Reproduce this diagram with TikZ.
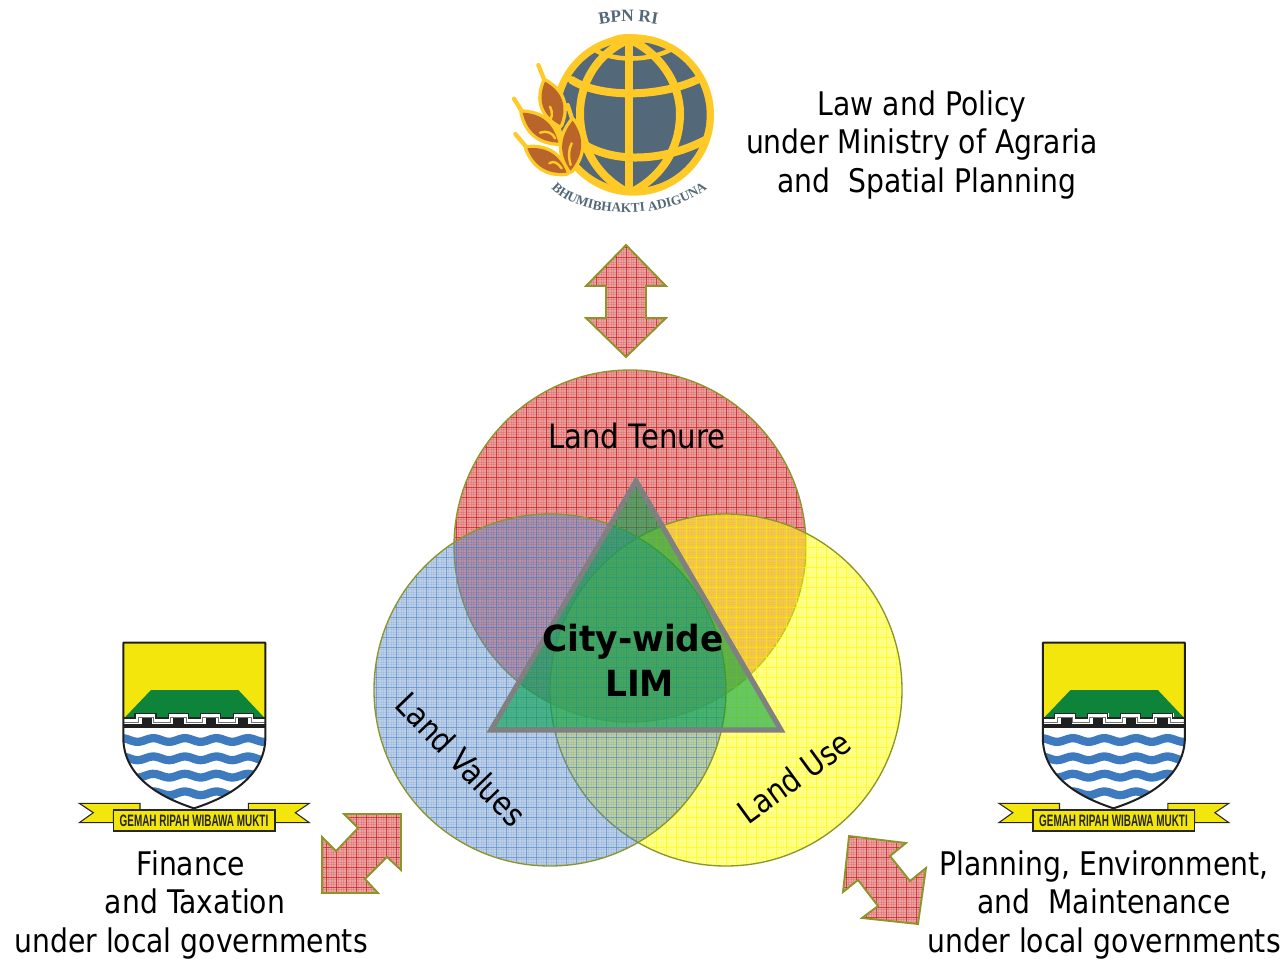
\documentclass[tikz,border=0pt]{standalone}
\usepackage{fontspec}
\usetikzlibrary{decorations.text}
\setmainfont[FakeStretch=0.868,BoldFont={DejaVu Sans Bold},BoldFeatures={FakeStretch=0.955}]{DejaVu Sans}
\newfontfamily\ribbonfont[FakeStretch=0.6]{Liberation Sans}
\newfontfamily\logofont{Liberation Serif}
\definecolor{olive1}{RGB}{140,150,40}
\definecolor{logogray}{RGB}{83,104,120}
\definecolor{logoyellow}{RGB}{255,202,40}
\definecolor{logobrown}{RGB}{185,100,40}
\definecolor{shieldyellow}{RGB}{243,230,12}
\definecolor{shieldgreen}{RGB}{14,132,58}
\definecolor{shieldblue}{RGB}{62,122,190}
\definecolor{redfill}{RGB}{201,5,5}
\definecolor{redline}{RGB}{200,25,25}
\definecolor{bluefill}{RGB}{85,135,195}
\definecolor{blueline}{RGB}{90,140,205}
\definecolor{yellowfill}{RGB}{255,255,0}
\definecolor{trifill}{RGB}{0,160,75}
\tikzset{
  x=0.75pt,y=-0.75pt,
  label text/.style={font=\fontsize{24.4}{28.9}\selectfont,align=center,inner sep=0pt,text=black},
  big text/.style={font=\fontsize{27}{33.5}\selectfont\bfseries,align=center,inner sep=0pt},
  olive edge/.style={draw=olive1,line width=1pt},
  arrow edge/.style={draw=olive1,line width=1.4pt,line join=miter},
  leaf halo/.style={fill=logoyellow,draw=logoyellow,line width=5pt,line join=round},
}
% #1 path, #2 fill colour, #3 line colour, #4 opacity, #5 x0, #6 x1, #7 y0, #8 y1
\newcommand\griddedshape[8]{%
  \begin{scope}
    \clip #1;
    \fill[#2,opacity=#4] (#5,#7) rectangle (#6,#8);
    \pgfmathsetmacro\xfine{#5+2.5}
    \pgfmathsetmacro\yfine{#7+2.5}
    \foreach \gx in {#5,\xfine,...,#6} \draw[#2,line width=0.55pt,opacity=.14] (\gx,#7) -- (\gx,#8);
    \foreach \gy in {#7,\yfine,...,#8} \draw[#2,line width=0.55pt,opacity=.14] (#5,\gy) -- (#6,\gy);
    \pgfmathtruncatemacro\xsec{#5+10}
    \pgfmathtruncatemacro\ysec{#7+10}
    \foreach \gx in {#5,\xsec,...,#6} \draw[#3,line width=0.7pt,opacity=.65] (\gx,#7) -- (\gx,#8);
    \foreach \gy in {#7,\ysec,...,#8} \draw[#3,line width=0.7pt,opacity=.65] (#5,\gy) -- (#6,\gy);
  \end{scope}}
\newcommand\cityemblem[2]{%
  \begin{scope}[shift={(#1,630)},scale=1/3]
    % ribbon tails
    \fill[shieldyellow,draw=black!85,line width=.8pt] (28,520)--(210,520)--(210,545)--(130,545)--(130,578)--(28,578)--(70,548)--cycle;
    \fill[shieldyellow,draw=black!85,line width=.8pt] (718,520)--(535,520)--(535,545)--(615,545)--(615,578)--(718,578)--(676,548)--cycle;
    % shield
    \fill[white] (160,38)--(586,38)--(586,330) .. controls (580,440) and (480,500) .. (372,535) .. controls (265,500) and (165,440) .. (160,330)--cycle;
    \begin{scope}
      \clip (160,38)--(586,38)--(586,330) .. controls (580,440) and (480,500) .. (372,535) .. controls (265,500) and (165,440) .. (160,330)--cycle;
      \fill[shieldyellow] (160,38) rectangle (586,265);
      \fill[shieldgreen] (163,264)--(243,180)--(505,180)--(584,264)--cycle;
      \foreach \wy in {330,385,437,490}
        \draw[shieldblue,line width=6.2pt] plot[domain=150:600,samples=70] (\x,{\wy+5.5*sin(3.8*\x+40)});
      \fill[white] (160,264) rectangle (586,285);
      \foreach \bx in {195,295,392,490} \fill[white] (\bx,250) rectangle (\bx+62,264);
      \fill[black!88] (160,283) rectangle (586,293);
      \foreach \bx in {215,310,408,503} \fill[black!88] (\bx,264) rectangle (\bx+31,285);
      \draw[black!85,line width=.9pt] (160,264)--(195,264)--(195,250)--(258,250)--(258,264)--(295,264)--(295,250)--(355,250)--(355,264)--(392,264)--(392,250)--(452,250)--(452,264)--(490,264)--(490,250)--(550,250)--(550,264)--(586,264);
      \draw[black!55,line width=.6pt] (160,276)--(205,276)--(205,262)--(250,262)--(250,276)--(300,276)--(300,262)--(348,262)--(348,276)--(398,276)--(398,262)--(445,262)--(445,276)--(495,276)--(495,262)--(543,262)--(543,276)--(586,276);
    \end{scope}
    \draw[black!88,line width=1.5pt,line join=round] (160,38)--(586,38)--(586,330) .. controls (580,440) and (480,500) .. (372,535) .. controls (265,500) and (165,440) .. (160,330)--cycle;
    % ribbon front
    \fill[shieldyellow,draw=black!85,line width=1pt] (130,540) rectangle (615,603);
    \node[inner sep=0pt,font=\ribbonfont\fontsize{12.4}{13}\selectfont\bfseries,text=black!85] (motto#2) at (372,571) {GEMAH RIPAH WIBAWA MUKTI};
  \end{scope}}
\begin{document}
\begin{tikzpicture}
\useasboundingbox (0,0) rectangle (1284,959);
\fill[white] (0,0) rectangle (1284,959);

% ---------- national logo
\begin{scope}[shift={(500,0)},scale=1/3]
  \fill[logoyellow] (400,345) circle[radius=242];
  \fill[logogray] (400,345) circle[radius=220];
  \begin{scope}[logoyellow,line width=6pt,line cap=round]
    \clip (400,345) circle[radius=232];
    \draw (388,115) -- (388,585);
    \draw (388,118) .. controls (290,160) and (240,250) .. (240,340) .. controls (240,440) and (290,530) .. (388,580);
    \draw (388,118) .. controls (480,160) and (540,250) .. (540,340) .. controls (540,440) and (490,530) .. (388,580);
    \draw (215,240) .. controls (300,295) and (490,295) .. (610,230);
    \draw (240,425) .. controls (330,490) and (490,490) .. (625,415);
    \draw[line width=3.4pt] (285,150) .. controls (340,185) and (450,185) .. (520,145);
  \end{scope}
  \fill[logoyellow] (385,120) ellipse[x radius=55,y radius=18];
  % wheat
  \begin{scope}[line cap=round]
    \draw[logoyellow,line width=3.2pt] (115,195)--(135,245);
    \draw[logoyellow,line width=3.2pt] (42,296)--(68,338);
    \draw[logoyellow,line width=3.2pt] (46,402)--(82,445);
    \draw[logoyellow,line width=3.2pt] (203,315)--(218,362);
    \path[leaf halo] (135,245) .. controls (112,301) and (127,345) .. (180,375) .. controls (203,319) and (188,275) .. (135,245);
    \path[leaf halo] (68,338) .. controls (81,395) and (116,425) .. (175,428) .. controls (161,371) and (126,341) .. (68,338);
    \path[leaf halo] (82,445) .. controls (103,499) and (143,524) .. (200,518) .. controls (179,464) and (139,439) .. (82,445);
    \path[leaf halo] (218,362) .. controls (178,412) and (176,462) .. (212,512) .. controls (252,462) and (254,412) .. (218,362);
    \fill[logobrown] (135,245) .. controls (112,301) and (127,345) .. (180,375) .. controls (203,319) and (188,275) .. (135,245);
    \fill[logobrown] (68,338) .. controls (81,395) and (116,425) .. (175,428) .. controls (161,371) and (126,341) .. (68,338);
    \fill[logobrown] (82,445) .. controls (103,499) and (143,524) .. (200,518) .. controls (179,464) and (139,439) .. (82,445);
    \fill[logobrown] (218,362) .. controls (178,412) and (176,462) .. (212,512) .. controls (252,462) and (254,412) .. (218,362);
    \draw[logoyellow,line width=1.8pt] (150,320) .. controls (160,340) and (155,355) .. (148,365);
    \draw[logoyellow,line width=1.8pt] (120,398) .. controls (140,390) and (160,400) .. (165,415);
    \draw[logoyellow,line width=1.8pt] (148,490) .. controls (160,480) and (175,490) .. (185,505);
    \draw[logoyellow,line width=1.8pt] (215,430) .. controls (205,450) and (205,470) .. (212,495);
  \end{scope}
  \path[decorate,decoration={text along path,text align=center,
      text={|\logofont\fontsize{13}{14}\selectfont\bfseries\color{logogray}|BPN RI}}]
      (285,76) .. controls (340,62) and (430,62) .. (485,76);
  \path[decorate,decoration={text along path,text align=center,
      text={|\logofont\fontsize{10}{11}\selectfont\bfseries\color{logogray}|BHUMIBHAKTI ADIGUNA}}]
      (160,570) .. controls (250,660) and (500,660) .. (615,570);
\end{scope}

% ---------- three circles
\griddedshape{(630,546) circle[radius=176]}{redfill}{redline}{.38}{446}{816}{367}{727}
\draw[olive edge] (630,546) circle[radius=176];
\griddedshape{(726,690) circle[radius=176]}{yellowfill}{yellowfill}{.42}{546}{906}{507}{877}
\draw[olive edge] (726,690) circle[radius=176];
\griddedshape{(550,690) circle[radius=176]}{bluefill}{blueline}{.38}{366}{736}{507}{877}
\draw[olive edge] (550,690) circle[radius=176];

% ---------- triangle
\fill[trifill,fill opacity=.6] (636,481)--(781,730)--(491,730)--cycle;
\draw[gray,line width=3.9pt,line join=miter] (636,481)--(781,730)--(491,730)--cycle;

% ---------- arrows
\griddedshape{(626,245)--(666,286)--(646,286)--(646,318)--(666,318)--(626,357)--(586,318)--(606,318)--(606,286)--(586,286)--cycle}{redfill}{redline}{.36}{576}{676}{237}{367}
\draw[arrow edge] (626,245)--(666,286)--(646,286)--(646,318)--(666,318)--(626,357)--(586,318)--(606,318)--(606,286)--(586,286)--cycle;
\griddedshape{(344,814)--(401,814)--(401,870)--(387,857)--(365,879)--(378,893)--(322,893)--(322,837)--(336,851)--(358,828)--cycle}{redfill}{redline}{.36}{316}{406}{807}{897}
\draw[arrow edge] (344,814)--(401,814)--(401,870)--(387,857)--(365,879)--(378,893)--(322,893)--(322,837)--(336,851)--(358,828)--cycle;
\griddedshape{(849,836)--(906,843)--(890,856)--(910,881)--(926,868)--(918,924)--(862,918)--(878,906)--(858,880)--(843,892)--cycle}{redfill}{redline}{.36}{836}{936}{827}{927}
\draw[arrow edge] (849,836)--(906,843)--(890,856)--(910,881)--(926,868)--(918,924)--(862,918)--(878,906)--(858,880)--(843,892)--cycle;

% ---------- emblems
\cityemblem{70}{a}
\cityemblem{989.5}{b}

% ---------- text
\node[label text,font=\fontsize{25.2}{28.9}\selectfont] (tenure) at (637,436) {Land Tenure};
\node[label text,rotate=-46] (values) at (461,759) {Land Values};
\node[label text,rotate=36] (use) at (794,777) {Land Use};
\node[big text] (lim) at (633,660) {City-wide\\\hspace*{10pt}LIM};
\node[label text] (law) at (922,145) {Law and Policy\\under Ministry of Agraria\\\hspace*{7pt}and\ \ Spatial Planning};
\node[label text] (finance) at (191,905) {Finance\\\hspace*{6pt}and Taxation\\under local governments};
\node[label text] (planning) at (1104,905) {Planning, Environment,\\and\ \ Maintenance\\under local governments};
\end{tikzpicture}
\end{document}
